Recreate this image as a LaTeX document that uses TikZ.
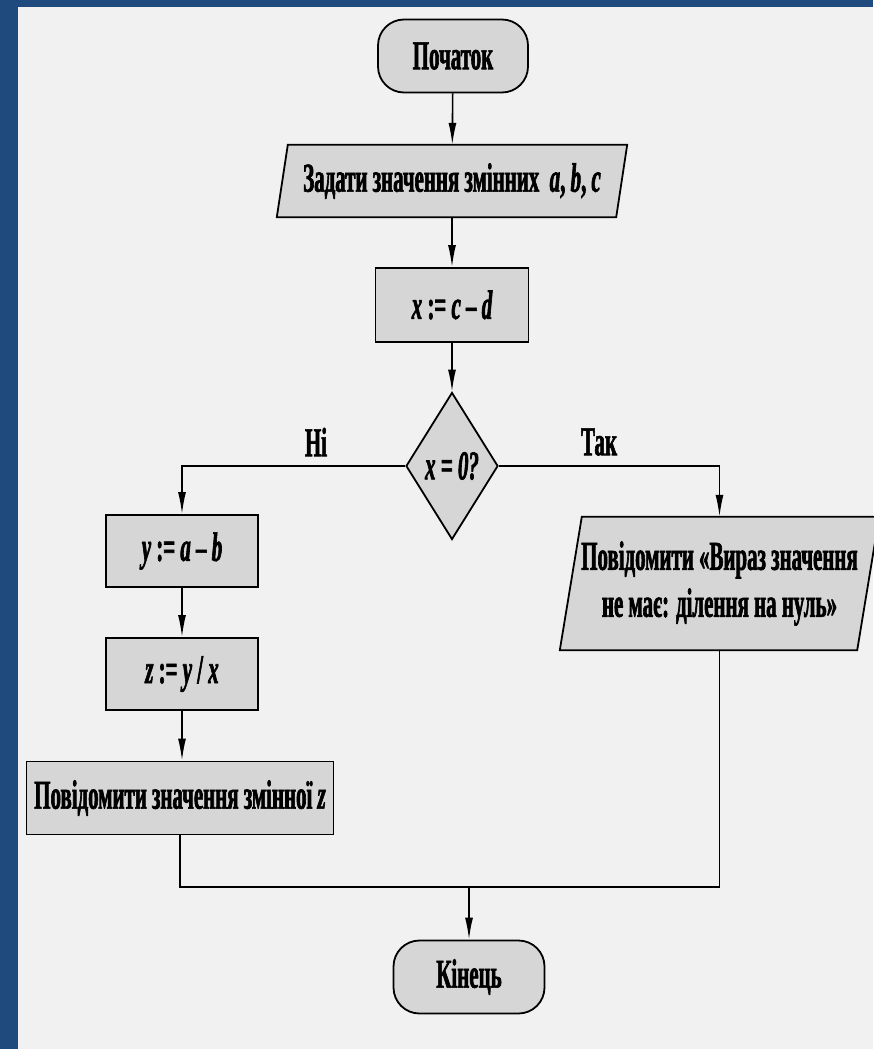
\documentclass[tikz,border=0pt]{standalone}
\usepackage{fontspec}
\setmainfont{Liberation Serif}[FakeStretch=0.51, FakeBold=1.5]
\usetikzlibrary{shapes.geometric,arrows.meta,backgrounds}
\definecolor{frameblue}{HTML}{1F4A7E}
\definecolor{paper}{HTML}{F1F1F1}
\definecolor{boxfill}{HTML}{D6D6D6}
\begin{document}
\begin{tikzpicture}[x=1pt,y=-1pt,
  every node/.style={font=\bfseries\fontsize{41}{47}\selectfont},
  box/.style={draw, line width=1.8pt, fill=boxfill, inner sep=0pt, align=center},
  procbox/.style={box, rectangle},
  termbox/.style={box, rectangle, rounded corners=26pt},
  iobox/.style={rectangle, inner sep=0pt, align=center},
  iodraw/.style={draw, line width=1.8pt, fill=boxfill},
  decbox/.style={box, diamond},
  arr/.style={-{Latex[length=22pt,width=8pt]}, line width=1.6pt},
  conn/.style={line width=1.6pt},
  lbl/.style={inner sep=0pt}]
\useasboundingbox (0,0) rectangle (873,1049);
\begin{scope}[on background layer]
\fill[paper] (0,0) rectangle (873,1049);
\fill[frameblue] (0,0) rectangle (18,1049);
\fill[frameblue] (0,0) rectangle (873,7);
\end{scope}

\node[termbox, minimum width=150pt, minimum height=73pt] (start) at (453,56) {Початок};
\node[iobox, minimum width=339pt, minimum height=72pt] (inp) at (452,181) {Задати значення змінних \ {\itshape a}, {\itshape b}, {\itshape c}};
\node[procbox, minimum width=153pt, minimum height=74pt] (calc) at (452,305) {{\itshape x} := {\itshape c} – {\itshape d}};
\node[decbox, minimum width=92pt, minimum height=147pt] (dec) at (452,466) {\itshape x = 0?};
\node[procbox, minimum width=152pt, minimum height=72pt] (ybox) at (182,551) {{\itshape y} := {\itshape a} – {\itshape b}};
\node[procbox, minimum width=152pt, minimum height=72pt] (zbox) at (182,674) {{\itshape z} := {\itshape y} / {\itshape x}};
\node[procbox, minimum width=307pt, minimum height=73pt] (out) at (180,798) {Повідомити значення змінної {\itshape z}};
\node[iobox, minimum width=297pt, minimum height=133pt] (msg) at (719.5,583.5) {Повідомити «Вираз значення\\не має: ділення на нуль»};
\node[termbox, minimum width=151pt, minimum height=73pt] (end) at (469,977) {Кінець};

\begin{scope}[on background layer]
\draw[iodraw] ([xshift=5.5pt]inp.north west) -- ([xshift=5.5pt]inp.north east) -- ([xshift=-5.5pt]inp.south east) -- ([xshift=-5.5pt]inp.south west) -- cycle;
\draw[iodraw] ([xshift=11pt]msg.north west) -- ([xshift=11pt]msg.north east) -- ([xshift=-11pt]msg.south east) -- ([xshift=-11pt]msg.south west) -- cycle;
\end{scope}

\node[lbl] (no) at (316,442) {Ні};
\node[lbl] (yes) at (599,442) {Так};

\coordinate (jr) at (720,887);

\draw[arr] (start) -- (inp);
\draw[arr] (inp) -- (calc);
\draw[arr] (calc) -- (dec);
\draw[arr] (dec.west) -| (ybox.north);
\draw[arr] (dec.east) -| (msg.north);
\draw[arr] (ybox) -- (zbox);
\draw[arr] (zbox.south) -- (zbox.south |- out.north);
\draw[conn] (msg.south) |- (out.south |- jr) -- (out.south);
\draw[arr] (end.north |- jr) -- (end.north);
\end{tikzpicture}
\end{document}
